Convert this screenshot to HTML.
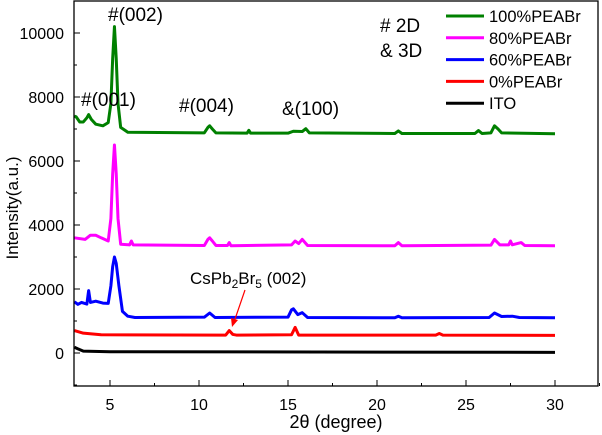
<!DOCTYPE html>
<html><head><meta charset="utf-8"><style>
body{margin:0;background:#fff}
svg{display:block;font-family:"Liberation Sans",sans-serif}
</style></head><body>
<svg id="c" width="602" height="435"></svg>
<script>
const xTicks=[5,10,15,20,25,30];
const yTicks=[0,2000,4000,6000,8000,10000];
const seriesNames=["100%PEABr","80%PEABr","60%PEABr","0%PEABr","ITO"];
const seriesColors=["#008000","#ff00ff","#0000ff","#ff0000","#000000"];
const green=[[3,7400],[3.1,7380],[3.3,7220],[3.5,7220],[3.7,7350],[3.8,7450],[3.95,7300],[4.2,7150],[4.6,7100],[4.9,7200],[5.05,7800],[5.15,9200],[5.25,10200],[5.35,9200],[5.45,7800],[5.6,7050],[6,6900],[10.3,6880],[10.5,7050],[10.6,7100],[10.75,7000],[10.95,6880],[12.7,6870],[12.8,6960],[12.9,6870],[15,6870],[15.3,6930],[15.8,6920],[16,7010],[16.2,6880],[21,6860],[21.2,6940],[21.4,6860],[25.5,6860],[25.7,6950],[25.9,6860],[26.4,6880],[26.6,7100],[26.8,7000],[27,6880],[30,6850]];
const magenta=[[3,3600],[3.6,3550],[3.9,3680],[4.2,3680],[4.5,3600],[4.9,3500],[5.05,4200],[5.15,5600],[5.25,6500],[5.35,5600],[5.45,4200],[5.6,3400],[6.1,3380],[6.2,3500],[6.3,3380],[10.3,3360],[10.5,3550],[10.6,3600],[10.75,3500],[10.95,3360],[11.6,3360],[11.7,3450],[11.8,3350],[15.2,3380],[15.4,3500],[15.6,3420],[15.8,3550],[16.1,3360],[21,3350],[21.2,3450],[21.4,3350],[26.4,3370],[26.6,3550],[26.9,3380],[27.4,3380],[27.5,3500],[27.6,3380],[28.1,3450],[28.3,3360],[30,3350]];
const blue=[[3,1600],[3.2,1520],[3.4,1580],[3.7,1530],[3.8,1950],[3.9,1580],[4.2,1620],[4.6,1560],[4.9,1550],[5.05,2100],[5.15,2700],[5.25,3000],[5.35,2800],[5.5,2100],[5.7,1300],[6.0,1150],[6.4,1110],[10.3,1120],[10.6,1250],[10.9,1110],[15,1120],[15.2,1350],[15.3,1380],[15.55,1200],[15.8,1260],[16.1,1110],[21,1100],[21.2,1150],[21.4,1100],[26.3,1110],[26.6,1250],[27,1140],[27.6,1150],[28,1110],[30,1100]];
const red=[[3,700],[3.5,620],[4.5,570],[11.5,560],[11.7,700],[11.9,580],[12.1,560],[15.2,570],[15.4,800],[15.6,560],[23.3,560],[23.5,610],[23.7,560],[30,550]];
const black=[[3,180],[3.2,130],[3.5,60],[5,40],[30,20]];
const allSeries=[green,magenta,blue,red,black];

const svg=document.getElementById('c');const NS='http://www.w3.org/2000/svg';
const L=74,R=598,T=1,B=386;
const X=v=>110+(v-5)*17.8;
const Y=v=>353-v*0.032;
function el(t,a,p){const e=document.createElementNS(NS,t);for(const k in a)e.setAttribute(k,a[k]);(p||svg).appendChild(e);return e;}
allSeries.forEach((s,i)=>{
 const p=el('polyline',{points:s.map(d=>X(d[0])+','+Y(d[1])).join(' '),fill:'none',stroke:seriesColors[i],'stroke-width':3,'stroke-linejoin':'round'});
 
 
});
const fr=el('rect',{x:L,y:T,width:R-L,height:B-T,fill:'none',stroke:'#000','stroke-width':1.3});

xTicks.forEach(v=>{
 el('line',{x1:X(v),x2:X(v),y1:B,y2:B-6,stroke:'#000'});
 el('line',{x1:X(v+2.5),x2:X(v+2.5),y1:B,y2:B-3,stroke:'#000'});
 const t=el('text',{x:X(v),y:B+24,'text-anchor':'middle','font-size':16});t.textContent=v;
 
});
yTicks.forEach(v=>{
 el('line',{x1:L,x2:L+6,y1:Y(v),y2:Y(v),stroke:'#000'});
 el('line',{x1:L,x2:L+3,y1:Y(v+1000),y2:Y(v+1000),stroke:'#000'});
 const t=el('text',{x:L-10,y:Y(v)+6,'text-anchor':'end','font-size':16});t.textContent=v;
 
});
el('line',{x1:L,x2:L+3,y1:Y(-1000),y2:Y(-1000),stroke:'#000'});
let t=el('text',{x:336,y:428,'text-anchor':'middle','font-size':18});t.textContent='2θ (degree)';

t=el('text',{x:0,y:0,'text-anchor':'middle','font-size':17,transform:'translate(18,208) rotate(-90)'});t.textContent='Intensity(a.u.)';

const ann=[['#(002)',108,21],['#(001)',81,106],['#(004)',179,112],['&(100)',282,115],['# 2D',380,32],['& 3D',380,57]];
ann.forEach(a=>{const e=el('text',{x:a[1],y:a[2],'font-size':19});e.textContent=a[0];
 });
t=el('text',{x:190,y:284,'font-size':17});
t.innerHTML='CsPb<tspan font-size="12" dy="4">2</tspan><tspan dy="-4">Br</tspan><tspan font-size="12" dy="4">5</tspan><tspan dy="-4"> (002)</tspan>';

const ar=el('line',{x1:245,y1:290,x2:234,y2:322,stroke:'#ff0000','stroke-width':1.2});

el('polygon',{points:'232,327 231,318 238,320',fill:'#ff0000'});
seriesNames.forEach((n,i)=>{
 const y=16+i*21.8;
 const l=el('line',{x1:446,x2:484,y1:y,y2:y,stroke:seriesColors[i],'stroke-width':3});
 
 const e=el('text',{x:489,y:y+6,'font-size':16.5});e.textContent=n;
 
});
</script>
</body></html>
